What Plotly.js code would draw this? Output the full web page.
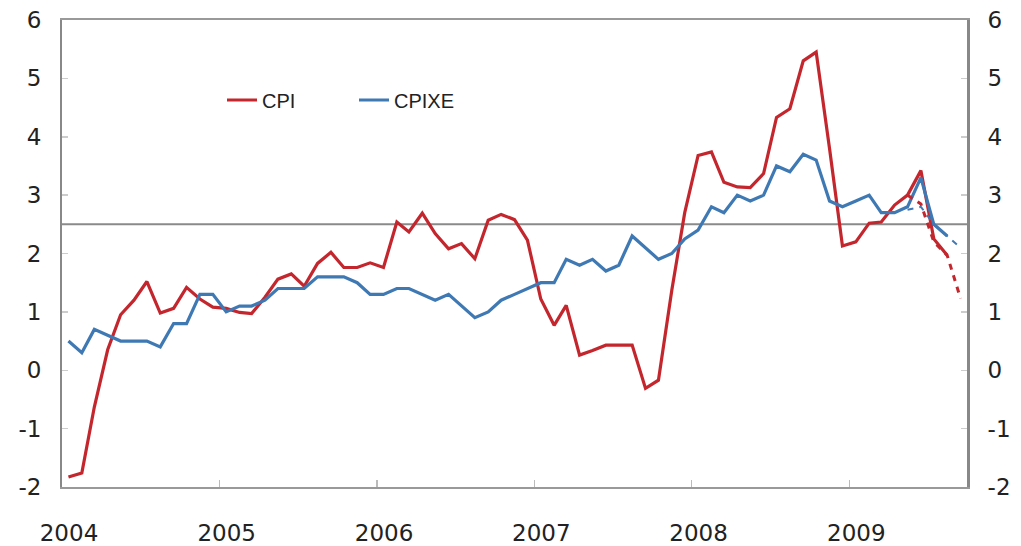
<!DOCTYPE html>
<html>
<head>
<meta charset="utf-8">
<script src="https://cdn.plot.ly/plotly-3.0.1.min.js"></script>
<style>html,body{margin:0;padding:0;background:#fff;}#chart{width:1021px;height:546px;}</style>
</head>
<body>
<div id="chart"></div>
<script>
// Monthly values, January 2004 onwards (12-month change, per cent)
const startYear = 2004;
const cpi = [-1.83, -1.76, -0.63, 0.35, 0.95, 1.2, 1.52, 0.98, 1.06, 1.42, 1.22, 1.08,
  1.06, 0.99, 0.97, 1.25, 1.56, 1.65, 1.44, 1.83, 2.02, 1.76, 1.76, 1.84,
  1.76, 2.54, 2.37, 2.69, 2.34, 2.08, 2.17, 1.91, 2.57, 2.67, 2.58, 2.23,
  1.22, 0.77, 1.11, 0.26, 0.34, 0.43, 0.43, 0.43, -0.31, -0.17, 1.37, 2.7,
  3.68, 3.74, 3.22, 3.14, 3.13, 3.37, 4.33, 4.48, 5.3, 5.45, 3.8, 2.13,
  2.2, 2.52, 2.54, 2.83, 3.0, 3.42, 2.25, 1.97];
const cpixe = [0.5, 0.3, 0.7, 0.6, 0.5, 0.5, 0.5, 0.4, 0.8, 0.8, 1.3, 1.3,
  1.0, 1.1, 1.1, 1.2, 1.4, 1.4, 1.4, 1.6, 1.6, 1.6, 1.5, 1.3,
  1.3, 1.4, 1.4, 1.3, 1.2, 1.3, 1.1, 0.9, 1.0, 1.2, 1.3, 1.4,
  1.5, 1.5, 1.9, 1.8, 1.9, 1.7, 1.8, 2.3, 2.1, 1.9, 2.0, 2.25,
  2.4, 2.8, 2.7, 3.0, 2.9, 3.0, 3.5, 3.4, 3.7, 3.6, 2.9, 2.8,
  2.9, 3.0, 2.7, 2.7, 2.8, 3.3, 2.5, 2.3];
// Projections (dashed), starting at month index 64 (May 2009)
const projStart = 64;
const cpiProjection = [3.0, 2.85, 2.2, 1.97, 1.23];
const cpixeProjection = [2.75, 2.8, 2.5, 2.3, 2.1];
const inflationTarget = 2.5;
const yTicks = [-2, -1, 0, 1, 2, 3, 4, 5, 6];
const yTickLabels = ['-2', '-1', '0', '1', '2', '3', '4', '5', '6'];
const yearTicks = [2004, 2005, 2006, 2007, 2008, 2009];
const yearLabels = ['2004', '2005', '2006', '2007', '2008', '2009'];

function monthDate(i) {
  const y = startYear + Math.floor(i / 12);
  const m = (i % 12) + 1;
  return y + '-' + String(m).padStart(2, '0') + '-16';
}
const xs = cpi.map((_, i) => monthDate(i));
const xsProj = cpiProjection.map((_, k) => monthDate(projStart + k));

const RED = '#c3272d';
const BLUE = '#3f79b4';

const traces = [
  {x: xs, y: cpi, type: 'scatter', mode: 'lines', name: 'CPI',
   line: {color: RED, width: 3.2}, legend: 'legend'},
  {x: xs, y: cpixe, type: 'scatter', mode: 'lines', name: 'CPIXE',
   line: {color: BLUE, width: 3.2}, legend: 'legend2'},
  {x: xsProj, y: cpiProjection, type: 'scatter', mode: 'lines', name: 'CPI projection',
   line: {color: RED, width: 3, dash: '6px,6px'}, showlegend: false, yaxis: 'y2'},
  {x: xsProj, y: cpixeProjection, type: 'scatter', mode: 'lines', name: 'CPIXE projection',
   line: {color: BLUE, width: 2, dash: '6px,6px'}, showlegend: false, yaxis: 'y2'}
];

const tickFont = {family: 'DejaVu Sans, sans-serif', size: 23, color: '#222'};
const yRange = [-2, 6];

const layout = {
  width: 1021, height: 546,
  margin: {l: 62, r: 54, t: 20, b: 59},
  paper_bgcolor: '#fff', plot_bgcolor: '#fff',
  showlegend: true,
  xaxis: {
    type: 'date',
    range: ['2004-01-01', '2009-10-01'],
    tickvals: yearTicks.map(y => y + '-01-01'),
    ticktext: yearLabels,
    ticks: 'inside', ticklen: 7, tickcolor: '#bbb', tickwidth: 1.5,
    showline: true, linecolor: '#999', linewidth: 2, mirror: true,
    showgrid: false, zeroline: false,
    tickfont: tickFont, ticklabelstandoff: 24, ticklabelshift: 7
  },
  yaxis: {
    range: yRange, tickvals: yTicks, ticktext: yTickLabels,
    ticks: 'inside', ticklen: 6, tickcolor: '#ccc', tickwidth: 1.5,
    showline: true, linecolor: '#888', linewidth: 2,
    showgrid: false, zeroline: false,
    tickfont: tickFont, ticklabelstandoff: 14
  },
  yaxis2: {
    range: yRange, tickvals: yTicks, ticktext: yTickLabels, overlaying: 'y', side: 'right',
    ticks: 'inside', ticklen: 6, tickcolor: '#ccc', tickwidth: 1.5,
    showline: true, linecolor: '#888', linewidth: 3,
    showgrid: false, zeroline: false,
    tickfont: tickFont, ticklabelstandoff: 13
  },
  shapes: [{type: 'line', xref: 'paper', x0: 0, x1: 1, yref: 'y', y0: inflationTarget, y1: inflationTarget,
            line: {color: '#8a8a8a', width: 2}, layer: 'below'}],
  legend: {x: (222 - 62) / 905, y: (487 - 100) / 467, xanchor: 'left', yanchor: 'middle',
           bgcolor: 'rgba(0,0,0,0)', font: {family: 'Liberation Sans, Arial, sans-serif', size: 20, color: '#222'},
           itemwidth: 30},
  legend2: {x: (354 - 62) / 905, y: (487 - 100) / 467, xanchor: 'left', yanchor: 'middle',
           bgcolor: 'rgba(0,0,0,0)', font: {family: 'Liberation Sans, Arial, sans-serif', size: 20, color: '#222'},
           itemwidth: 30}
};

Plotly.newPlot('chart', traces, layout, {displayModeBar: false, staticPlot: true});
</script>
</body>
</html>
